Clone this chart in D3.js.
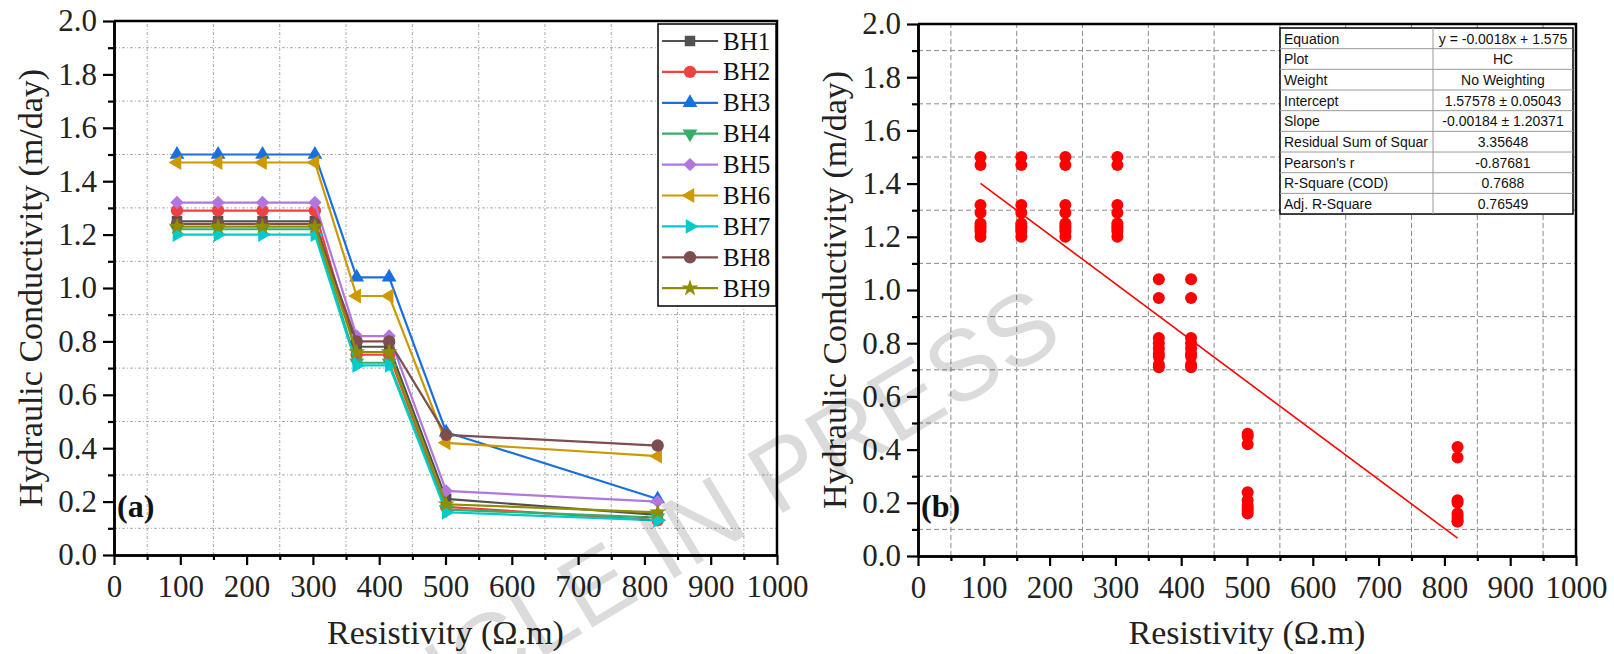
<!DOCTYPE html>
<html>
<head>
<meta charset="utf-8">
<script src="https://cdn.jsdelivr.net/npm/d3@7"></script>
<style>
  body { margin: 0; background: #fff; }
  svg { display: block; }
</style>
</head>
<body>
<svg id="chart" width="1614" height="654"></svg>
<script>
// Resistivity vs hydraulic conductivity, two panels

const resistivity = [95, 157, 224, 303, 366, 415, 501, 820];
const bhNames = ['BH1', 'BH2', 'BH3', 'BH4', 'BH5', 'BH6', 'BH7', 'BH8', 'BH9'];
const bh1 = [1.25, 1.25, 1.25, 1.25, 0.78, 0.78, 0.21, 0.15];
const bh2 = [1.29, 1.29, 1.29, 1.29, 0.75, 0.75, 0.18, 0.13];
const bh3 = [1.50, 1.50, 1.50, 1.50, 1.04, 1.04, 0.46, 0.21];
const bh4 = [1.22, 1.22, 1.22, 1.22, 0.72, 0.72, 0.17, 0.14];
const bh5 = [1.32, 1.32, 1.32, 1.32, 0.82, 0.82, 0.24, 0.20];
const bh6 = [1.47, 1.47, 1.47, 1.47, 0.97, 0.97, 0.42, 0.37];
const bh7 = [1.20, 1.20, 1.20, 1.20, 0.71, 0.71, 0.16, 0.13];
const bh8 = [1.24, 1.24, 1.24, 1.24, 0.80, 0.80, 0.45, 0.41];
const bh9 = [1.23, 1.23, 1.23, 1.23, 0.76, 0.76, 0.19, 0.16];
const bhValues = [bh1, bh2, bh3, bh4, bh5, bh6, bh7, bh8, bh9];

const xTicks = [0, 100, 200, 300, 400, 500, 600, 700, 800, 900, 1000];
const yTicks = [0, 0.2, 0.4, 0.6, 0.8, 1.0, 1.2, 1.4, 1.6, 1.8, 2.0];

// linear fit reported in the table
const fitIntercept = 1.57578;
const fitSlope = -0.00184;
const fitRows = [
  ['Equation', 'y = -0.0018x + 1.575'],
  ['Plot', 'HC'],
  ['Weight', 'No Weighting'],
  ['Intercept', '1.57578 \u00b1 0.05043'],
  ['Slope', '-0.00184 \u00b1 1.20371'],
  ['Residual Sum of Squar', '3.35648'],
  ["Pearson's r", '-0.87681'],
  ['R-Square (COD)', '0.7688'],
  ['Adj. R-Square', '0.76549']
];

// Origin "bright" palette and marker shapes
const colors = ['#515151', '#F14040', '#1A6FDF', '#37AD6B', '#B177DE', '#CC9900', '#00CBCC', '#7D4E4E', '#8E8E00'];
const shapes = [
  { type: d3.symbolSquare, size: 110, rot: 0 },
  { type: d3.symbolCircle, size: 120, rot: 0 },
  { type: d3.symbolTriangle, size: 95, rot: 0 },
  { type: d3.symbolTriangle, size: 95, rot: 180 },
  { type: d3.symbolSquare, size: 90, rot: 45 },
  { type: d3.symbolTriangle, size: 95, rot: -90 },
  { type: d3.symbolTriangle, size: 95, rot: 90 },
  { type: d3.symbolCircle, size: 120, rot: 0 },
  { type: d3.symbolStar, size: 90, rot: 0 }
];

const serif = '"Liberation Serif", "Times New Roman", serif';
const sans = '"Liberation Sans", Arial, sans-serif';

const svg = d3.select('#chart');

function drawFrame(x, y, opts) {
  const g = svg.append('g');
  const [x0, x1] = x.range();
  const [yb, yt] = y.range();

  // grid on minor positions
  const minorX = d3.range(50, 1000, 100);
  const minorY = d3.range(0.1, 2.0, 0.2);
  g.selectAll('.gx').data(minorX).enter().append('line')
    .attr('x1', d => x(d)).attr('x2', d => x(d))
    .attr('y1', yb).attr('y2', yt)
    .attr('stroke', opts.gridColor).attr('stroke-width', 1)
    .attr('stroke-dasharray', opts.dash);
  g.selectAll('.gy').data(minorY).enter().append('line')
    .attr('y1', d => y(d)).attr('y2', d => y(d))
    .attr('x1', x0).attr('x2', x1)
    .attr('stroke', opts.gridColor).attr('stroke-width', 1)
    .attr('stroke-dasharray', opts.dash);

  // axes
  g.append('g').attr('transform', `translate(0,${yb})`)
    .call(d3.axisBottom(x).tickValues(xTicks).tickSize(10).tickSizeOuter(0).tickPadding(10)
      .tickFormat(d3.format('d')));
  g.append('g').attr('transform', `translate(0,${yb})`)
    .call(d3.axisBottom(x).tickValues(minorX).tickSize(5).tickSizeOuter(0).tickFormat(''));
  g.append('g').attr('transform', `translate(${x0},0)`)
    .call(d3.axisLeft(y).tickValues(yTicks).tickSize(11).tickSizeOuter(0).tickPadding(6)
      .tickFormat(d3.format('.1f')));
  g.append('g').attr('transform', `translate(${x0},0)`)
    .call(d3.axisLeft(y).tickValues(minorY).tickSize(6).tickSizeOuter(0).tickFormat(''));

  g.selectAll('g').attr('font-family', serif).attr('font-size', 31);
  g.selectAll('.domain').attr('stroke', '#000').attr('stroke-width', 2.5);
  g.selectAll('.tick line').attr('stroke', '#000').attr('stroke-width', 2.2);
  g.selectAll('.tick text')
    .attr('font-family', serif).attr('font-size', 31).attr('fill', '#222');

  // top and right border
  g.append('path')
    .attr('d', `M${x0},${yt}H${x1}V${yb}`)
    .attr('fill', 'none').attr('stroke', '#000').attr('stroke-width', 2.5);

  // titles
  g.append('text')
    .attr('x', (x0 + x1) / 2).attr('y', 644)
    .attr('text-anchor', 'middle')
    .attr('font-family', serif).attr('font-size', 34).attr('fill', '#222')
    .text('Resistivity (\u03a9.m)');
  g.append('text')
    .attr('transform', `translate(${x0 - 72},${(yb + yt) / 2}) rotate(-90)`)
    .attr('text-anchor', 'middle')
    .attr('font-family', serif).attr('font-size', 34).attr('fill', '#222')
    .text('Hydraulic Conductivity (m/day)');
  g.append('text')
    .attr('x', x0 + 3).attr('y', 517)
    .attr('font-family', serif).attr('font-size', 32).attr('font-weight', 'bold')
    .attr('fill', '#111')
    .text(opts.label);
  return g;
}

function marker(sel, i) {
  const s = shapes[i];
  sel.attr('d', d3.symbol().type(s.type).size(s.size)())
    .attr('fill', colors[i]);
  return s.rot;
}

// ---- panel (a)
const xa = d3.scaleLinear().domain([0, 1000]).range([114, 777]);
const ya = d3.scaleLinear().domain([0, 2]).range([555, 21]);
drawFrame(xa, ya, { gridColor: '#a8a8a8', dash: '3,2,1,2', label: '(a)' });

const lineA = d3.line().x((d, i) => xa(resistivity[i])).y(d => ya(d));
bhValues.forEach((vals, i) => {
  svg.append('path')
    .attr('d', lineA(vals))
    .attr('fill', 'none').attr('stroke', colors[i]).attr('stroke-width', 2.2);
  svg.append('g').selectAll('path').data(vals).enter().append('path')
    .each(function(d, j) {
      const rot = marker(d3.select(this), i);
      d3.select(this).attr('transform', `translate(${xa(resistivity[j])},${ya(d)}) rotate(${rot})`);
    });
});

// legend
const leg = svg.append('g');
leg.append('rect').attr('x', 658).attr('y', 24).attr('width', 118).attr('height', 282)
  .attr('fill', '#fff').attr('stroke', '#000').attr('stroke-width', 1.5);
bhNames.forEach((name, i) => {
  const cy = 41 + i * 30.9;
  leg.append('line').attr('x1', 662).attr('x2', 718).attr('y1', cy).attr('y2', cy)
    .attr('stroke', colors[i]).attr('stroke-width', 2.2);
  const m = leg.append('path');
  const rot = marker(m, i);
  m.attr('transform', `translate(690,${cy}) rotate(${rot})`);
  leg.append('text').attr('x', 723).attr('y', cy + 8.5)
    .attr('font-family', serif).attr('font-size', 25).attr('fill', '#111')
    .text(name);
});

// ---- panel (b)
const xb = d3.scaleLinear().domain([0, 1000]).range([918, 1576]);
const yb = d3.scaleLinear().domain([0, 2]).range([556, 24]);
drawFrame(xb, yb, { gridColor: '#8a8a8a', dash: '5,3', label: '(b)' });

const scatter = [];
bhValues.forEach(vals => vals.forEach((v, j) => scatter.push([resistivity[j], v])));
svg.append('g').selectAll('circle').data(scatter).enter().append('circle')
  .attr('cx', d => xb(d[0])).attr('cy', d => yb(d[1])).attr('r', 6)
  .attr('fill', '#ff0000');

const fitX = d3.extent(resistivity);
svg.append('line')
  .attr('x1', xb(fitX[0])).attr('y1', yb(fitIntercept + fitSlope * fitX[0]))
  .attr('x2', xb(fitX[1])).attr('y2', yb(fitIntercept + fitSlope * fitX[1]))
  .attr('stroke', '#ff0000').attr('stroke-width', 1.6);

// fit table
const tX = 1280, tY = 28, tW = 293, rowH = 20.67, splitX = 1433;
const tbl = svg.append('g');
tbl.append('rect').attr('x', tX).attr('y', tY).attr('width', tW).attr('height', rowH * fitRows.length)
  .attr('fill', '#fff').attr('stroke', '#000').attr('stroke-width', 1.5);
fitRows.forEach((r, i) => {
  const y0 = tY + i * rowH;
  if (i > 0) {
    tbl.append('line').attr('x1', tX).attr('x2', tX + tW).attr('y1', y0).attr('y2', y0)
      .attr('stroke', '#9a9a9a').attr('stroke-width', 1);
  }
  tbl.append('text').attr('x', tX + 4).attr('y', y0 + 15.5)
    .attr('font-family', sans).attr('font-size', 14).attr('fill', '#111')
    .text(r[0]);
  tbl.append('text').attr('x', (splitX + tX + tW) / 2).attr('y', y0 + 15.5)
    .attr('text-anchor', 'middle')
    .attr('font-family', sans).attr('font-size', 14).attr('fill', '#111')
    .text(r[1]);
});
tbl.append('line').attr('x1', splitX).attr('x2', splitX).attr('y1', tY).attr('y2', tY + rowH * fitRows.length)
  .attr('stroke', '#9a9a9a').attr('stroke-width', 1);

// watermark
svg.append('text')
  .attr('transform', 'translate(282,814) rotate(-31)')
  .attr('font-family', sans).attr('font-size', 100)
  .attr('fill', '#000').attr('fill-opacity', 0.14)
  .text('ARTICLE IN PRESS');
</script>
</body>
</html>
